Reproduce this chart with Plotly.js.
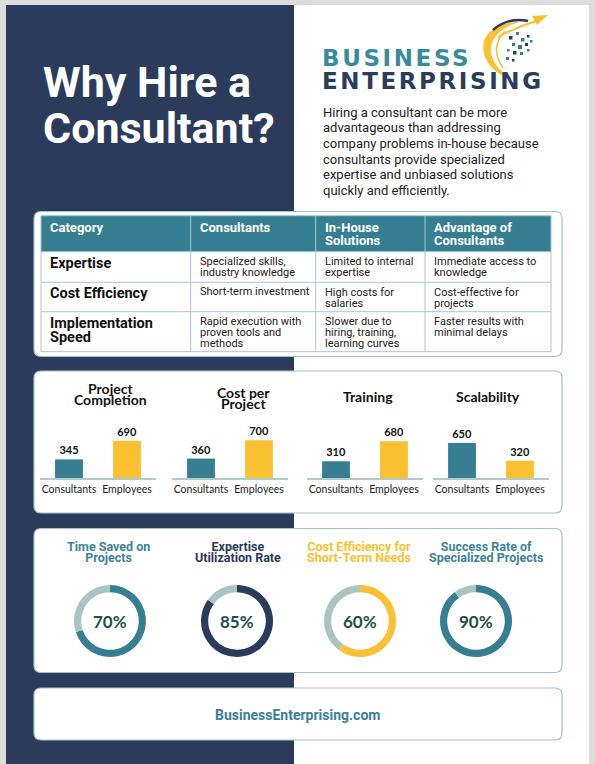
<!DOCTYPE html>
<html><head><meta charset="utf-8">
<script src="https://cdn.plot.ly/plotly-3.0.1.min.js"></script>
<style>html,body{margin:0;padding:0;background:#dcdcdc;} #chart{width:595px;height:764px;}</style>
</head><body><div id="chart"></div>
<script>
// ---------------- data ----------------
const pageTitle = ['Why Hire a', 'Consultant?'];
const brandLines = ['BUSINESS', 'ENTERPRISING'];
const introLines = [
  'Hiring a consultant can be more',
  'advantageous than addressing',
  'company problems in-house because',
  'consultants provide specialized',
  'expertise and unbiased solutions',
  'quickly and efficiently.'
];
const headerLabels = ['Category', 'Consultants', 'In-House<br>Solutions', 'Advantage of<br>Consultants'];
const rowCategories = ['Expertise', 'Cost Efficiency', 'Implementation<br>Speed'];
const consultantTraits = ['Specialized skills,<br>industry knowledge', 'Short-term investment', 'Rapid execution with<br>proven tools and<br>methods'];
const inHouseTraits = ['Limited to internal<br>expertise', 'High costs for<br>salaries', 'Slower due to<br>hiring, training,<br>learning curves'];
const advantageTraits = ['Immediate access to<br>knowledge', 'Cost-effective for<br>projects', 'Faster results with<br>minimal delays'];

const barMetrics = ['Project<br>Completion', 'Cost per<br>Project', 'Training', 'Scalability'];
const barGroups = ['Consultants', 'Employees'];
const consultantValues = [345, 360, 310, 650];
const employeeValues = [690, 700, 680, 320];

const donutTitles = ['Time Saved on<br>Projects', 'Expertise<br>Utilization Rate', 'Cost Efficiency for<br>Short-Term Needs', 'Success Rate of<br>Specialized Projects'];
const donutValues = [70, 85, 60, 90];
const siteUrl = 'BusinessEnterprising.com';

// ---------------- style / layout ----------------
const W = 595, H = 764;
const NAVY = '#2b3b5c', TEAL = '#367f92', YELLOW = '#f9c132', RING = '#a9c4c2';
const BORDER = '#a6c2c9', AXIS = '#b3cac9', TITLE_TEAL = '#3b8497', GRID = '#a9c6cd';
const px = x => x / W, py = y => 1 - y / H;
const P = (x, y) => px(x) + ',' + py(y);

function roundRect(x0, y0, x1, y1, r) {
  return 'M' + P(x0 + r, y0) + ' L' + P(x1 - r, y0) + ' Q' + P(x1, y0) + ' ' + P(x1, y0 + r) +
    ' L' + P(x1, y1 - r) + ' Q' + P(x1, y1) + ' ' + P(x1 - r, y1) +
    ' L' + P(x0 + r, y1) + ' Q' + P(x0, y1) + ' ' + P(x0, y1 - r) +
    ' L' + P(x0, y0 + r) + ' Q' + P(x0, y0) + ' ' + P(x0 + r, y0) + ' Z';
}
function rect(x0, y0, x1, y1, fill) {
  return {type: 'rect', xref: 'paper', yref: 'paper', x0: px(x0), x1: px(x1), y0: py(y1), y1: py(y0),
    fillcolor: fill, line: {width: 0}, layer: 'below'};
}
function seg(x0, y0, x1, y1, color, w) {
  return {type: 'line', xref: 'paper', yref: 'paper', x0: px(x0), x1: px(x1), y0: py(y0), y1: py(y1),
    line: {color: color, width: w}, layer: 'below'};
}

const shapes = [];
const annotations = [];
const lineGaps = [];      // tight line spacing (px) per annotation, applied after render
const spacedIdx = [];     // annotations that get letter spacing (brand)
const traces = [];

// text block: lines joined by <br>; y1 = centre of first line, gap = distance between lines
function block(lines, x, y1, gap, font, opts) {
  opts = opts || {};
  const wrap = opts.bold ? (l => '<b>' + l + '</b>') : (l => l);
  const text = lines.map((l, i) => {
    const t = wrap(l);
    return opts.lineColors ? '<span style="color:' + opts.lineColors[i] + '">' + t + '</span>' : t;
  }).join('<br>');
  const n = lines.length;
  annotations.push({xref: 'paper', yref: 'paper', x: px(x), y: py(y1 + (n - 1) * 0.65 * font.size),
    text: text, showarrow: false, xanchor: opts.anchor || 'center', yanchor: 'middle',
    align: opts.anchor === 'left' ? 'left' : 'center', borderpad: 0, font: font});
  lineGaps.push(n > 1 ? gap / font.size : null);
  return annotations.length - 1;
}

// page & panels
shapes.push(rect(6, 5, 589, 764, '#ffffff'));
shapes.push(rect(6, 5, 294, 764, NAVY));
[[34, 211.5, 562, 356.5], [34, 371, 562, 513], [34, 528.5, 562, 672.5], [34, 688, 562, 740]].forEach(b => {
  shapes.push({type: 'path', xref: 'paper', yref: 'paper', path: roundRect(b[0], b[1], b[2], b[3], 7),
    fillcolor: '#ffffff', line: {color: BORDER, width: 1.2}, layer: 'below'});
});

// logo mark
shapes.push({type: 'path', xref: 'paper', yref: 'paper', layer: 'below', fillcolor: YELLOW, line: {width: 0},
  path: 'M' + P(522, 21) + ' Q' + P(478, 25) + ' ' + P(484, 54) + ' Q' + P(490, 73) + ' ' + P(512, 79) +
    ' Q' + P(494, 68) + ' ' + P(491, 54) + ' Q' + P(488, 31) + ' ' + P(522, 21) + ' Z'});
shapes.push({type: 'path', xref: 'paper', yref: 'paper', layer: 'below', line: {color: YELLOW, width: 1.5},
  path: 'M' + P(505, 31) + ' Q' + P(489, 48) + ' ' + P(503, 68)});
shapes.push({type: 'path', xref: 'paper', yref: 'paper', layer: 'below', line: {color: NAVY, width: 2.4},
  path: 'M' + P(493, 30) + ' Q' + P(508, 17) + ' ' + P(528, 21)});
shapes.push({type: 'path', xref: 'paper', yref: 'paper', layer: 'below', line: {color: YELLOW, width: 2},
  path: 'M' + P(498, 37) + ' Q' + P(518, 26) + ' ' + P(540, 20)});
shapes.push({type: 'path', xref: 'paper', yref: 'paper', layer: 'below', fillcolor: YELLOW, line: {width: 0},
  path: 'M' + P(532, 16) + ' L' + P(548, 15) + ' L' + P(537, 25) + ' Z'});
[[509, 36, 3.5], [516, 32, 3], [521, 38, 3.5], [527, 35, 2.5], [512, 43, 3], [518, 45, 4], [525, 43, 3],
 [530, 40, 2.5], [507, 49, 2.5], [513, 51, 3.5], [520, 52, 3], [506, 57, 3], [512, 59, 2.5], [527, 49, 2.5]].forEach((d, i) => {
  shapes.push({type: 'rect', xref: 'paper', yref: 'paper', layer: 'below', line: {width: 0},
    fillcolor: i % 3 === 0 ? NAVY : TEAL, x0: px(d[0]), x1: px(d[0] + d[2]), y0: py(d[1] + d[2]), y1: py(d[1])});
});

// title, brand, intro
block(pageTitle, 42, 82, 46, {family: 'Roboto', size: 43, color: '#ffffff'}, {bold: true, anchor: 'left'});
spacedIdx.push(block(brandLines, 321, 58, 23, {family: 'DejaVu Sans', size: 23, color: NAVY},
  {bold: true, anchor: 'left', lineColors: ['#3a8a9b', NAVY]}));
block(introLines, 322, 113, 15.5, {family: 'Roboto', size: 13, color: '#1e1e1e'}, {anchor: 'left'});

// table (grid + text drawn from the table arrays)
const colEdges = [41, 190.7, 315.7, 425, 551];
const rowEdges = [215.7, 251.7, 282.3, 311.7, 351.7];
const tableColumns = [rowCategories, consultantTraits, inHouseTraits, advantageTraits];
shapes.push(rect(colEdges[0], rowEdges[0], colEdges[4], rowEdges[1], TEAL));
rowEdges.forEach(y => shapes.push(seg(colEdges[0], y, colEdges[4], y, GRID, 1)));
colEdges.forEach(x => shapes.push(seg(x, rowEdges[0], x, rowEdges[4], GRID, 1)));
headerLabels.forEach((h, c) => block(h.split('<br>'), colEdges[c] + 8, rowEdges[0] + 12, 13.3,
  {family: 'Roboto', size: 13, color: '#ffffff'}, {bold: true, anchor: 'left'}));
tableColumns.forEach((col, c) => col.forEach((cell, r) => {
  const first = c === 0;
  block(cell.split('<br>'), colEdges[c] + 8, rowEdges[r + 1] + (first ? 11.6 : 9.6), first ? 13.7 : 11.2,
    {family: 'Roboto', size: first ? 14.5 : 11, color: first ? '#111111' : '#222222'},
    {bold: first, anchor: 'left'});
}));

// bars
const barAxes = [[40, 156], [172, 288], [307, 423], [433, 549]];
const barTitleX = [110, 243, 368, 488];
const barTitleY = [388.5, 392.5, 396, 396];
const layout = {
  width: W, height: H, margin: {l: 0, r: 0, t: 0, b: 0},
  paper_bgcolor: '#dcdcdc', plot_bgcolor: 'rgba(0,0,0,0)',
  showlegend: false, bargap: 0.52, hovermode: false,
  shapes: shapes, annotations: annotations
};
barMetrics.forEach((m, i) => {
  const k = i === 0 ? '' : String(i + 1);
  traces.push({
    type: 'bar', x: barGroups, y: [consultantValues[i], employeeValues[i]],
    xaxis: 'x' + k, yaxis: 'y' + k,
    marker: {color: [TEAL, YELLOW]},
    texttemplate: '<b>%{y}</b>', textposition: 'outside', cliponaxis: false,
    textfont: {family: 'Lato', size: 11, color: '#111111'}, hoverinfo: 'skip'
  });
  layout['xaxis' + k] = {domain: [px(barAxes[i][0]), px(barAxes[i][1])], anchor: 'y' + k,
    showline: true, linecolor: AXIS, linewidth: 2, ticks: '', showgrid: false, zeroline: false,
    tickfont: {family: 'Lato', size: 10.5, color: '#222222'}, fixedrange: true};
  layout['yaxis' + k] = {domain: [py(478), py(424)], range: [0, 1000], visible: false, fixedrange: true};
  block(m.split('<br>'), barTitleX[i], barTitleY[i], 11.5, {family: 'Lato', size: 14, color: '#111111'}, {bold: true});
});

// donuts
const donutCX = [110, 237, 360, 476], donutCY = 621, R = 36;
const donutColors = [TEAL, NAVY, YELLOW, TEAL];
const donutTitleColors = [TITLE_TEAL, NAVY, YELLOW, TITLE_TEAL];
const donutTitleX = [109, 238, 359, 485.5];
donutValues.forEach((v, i) => {
  const cx = donutCX[i];
  traces.push({
    type: 'pie', values: [v, 100 - v], sort: false, direction: 'clockwise', rotation: 0, hole: 0.8,
    marker: {colors: [donutColors[i], RING], line: {width: 0}}, textinfo: 'none', hoverinfo: 'skip',
    domain: {x: [px(cx - R), px(cx + R)], y: [py(donutCY + R), py(donutCY - R)]}
  });
  block([v + '%'], cx, donutCY, 0, {family: 'Lato', size: 17, color: '#1c4f4d'}, {bold: true});
  block(donutTitles[i].split('<br>'), donutTitleX[i], 546, 10.5,
    {family: 'Roboto', size: 12.5, color: donutTitleColors[i]}, {bold: true});
});

// footer
block([siteUrl], 297, 714.5, 0, {family: 'Roboto', size: 14, color: '#3a8096'}, {bold: true});

Plotly.newPlot('chart', traces, layout, {staticPlot: true, displayModeBar: false}).then(gd => {
  gd.querySelectorAll('.infolayer g.annotation').forEach(g => {
    const idx = +g.getAttribute('data-index');
    const gap = lineGaps[idx];
    if (gap) g.querySelectorAll('tspan.line').forEach((t, i) => t.setAttribute('dy', (i * gap).toFixed(3) + 'em'));
    if (spacedIdx.indexOf(idx) >= 0) {
      const txt = g.querySelector('.annotation-text');
      if (txt) txt.style.letterSpacing = '2.6px';
    }
  });
});
</script>
</body></html>
